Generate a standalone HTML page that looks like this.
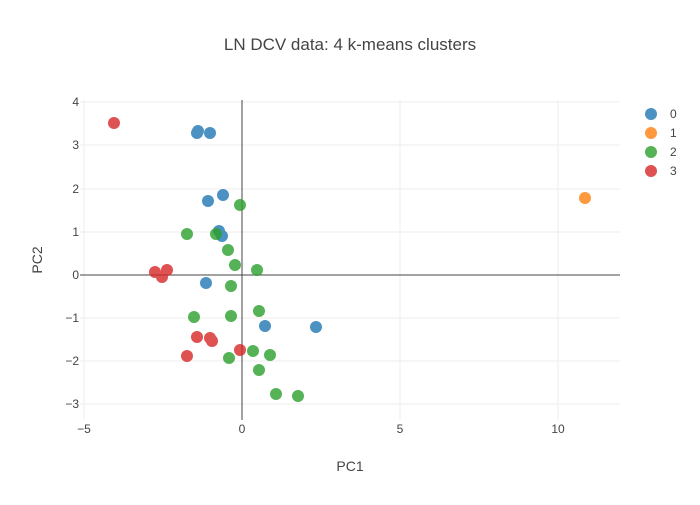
<!DOCTYPE html><html><head><style>body{margin:0;background:#fff}</style></head><body>
<svg width="700" height="500" xmlns="http://www.w3.org/2000/svg" font-family="'Liberation Sans',sans-serif" fill="#444">
<rect width="700" height="500" fill="#fff"/>
<g stroke="#eee" stroke-width="1">
<line x1="84" y1="100" x2="84" y2="420"/><line x1="400" y1="100" x2="400" y2="420"/><line x1="558" y1="100" x2="558" y2="420"/>
<line x1="80" y1="102" x2="620" y2="102"/><line x1="80" y1="145" x2="620" y2="145"/><line x1="80" y1="189" x2="620" y2="189"/><line x1="80" y1="232" x2="620" y2="232"/><line x1="80" y1="318" x2="620" y2="318"/><line x1="80" y1="361" x2="620" y2="361"/><line x1="80" y1="404" x2="620" y2="404"/>
</g>
<g stroke="#444" stroke-width="1"><line x1="242" y1="100" x2="242" y2="420"/><line x1="80" y1="275" x2="620" y2="275"/></g>
<text x="350" y="50" text-anchor="middle" font-size="17">LN DCV data: 4 k-means clusters</text>
<g font-size="12" text-anchor="middle"><text x="84" y="433">−5</text><text x="242" y="433">0</text><text x="400" y="433">5</text><text x="558" y="433">10</text></g>
<g font-size="12" text-anchor="end"><text x="79" y="106">4</text><text x="79" y="149">3</text><text x="79" y="193">2</text><text x="79" y="236">1</text><text x="79" y="279">0</text><text x="79" y="322">−1</text><text x="79" y="365">−2</text><text x="79" y="408">−3</text></g>
<text x="350" y="471" text-anchor="middle" font-size="14">PC1</text>
<text transform="translate(42,260) rotate(-90)" text-anchor="middle" font-size="14">PC2</text>
<g fill="#1f77b4" opacity="0.8"><circle cx="198" cy="131" r="6"/><circle cx="197" cy="133" r="6"/><circle cx="210" cy="133" r="6"/><circle cx="223" cy="195" r="6"/><circle cx="208" cy="201" r="6"/><circle cx="219" cy="231" r="6"/><circle cx="222" cy="236" r="6"/><circle cx="206" cy="283" r="6"/><circle cx="265" cy="326" r="6"/><circle cx="316" cy="327" r="6"/></g>
<g fill="#ff7f0e" opacity="0.8"><circle cx="585" cy="198" r="6"/></g>
<g fill="#2ca02c" opacity="0.8"><circle cx="240" cy="205" r="6"/><circle cx="187" cy="234" r="6"/><circle cx="216" cy="234" r="6"/><circle cx="228" cy="250" r="6"/><circle cx="235" cy="265" r="6"/><circle cx="257" cy="270" r="6"/><circle cx="231" cy="286" r="6"/><circle cx="194" cy="317" r="6"/><circle cx="231" cy="316" r="6"/><circle cx="259" cy="311" r="6"/><circle cx="229" cy="358" r="6"/><circle cx="253" cy="351" r="6"/><circle cx="270" cy="355" r="6"/><circle cx="259" cy="370" r="6"/><circle cx="276" cy="394" r="6"/><circle cx="298" cy="396" r="6"/></g>
<g fill="#d62728" opacity="0.8"><circle cx="114" cy="123" r="6"/><circle cx="155" cy="272" r="6"/><circle cx="167" cy="270" r="6"/><circle cx="162" cy="277" r="6"/><circle cx="210" cy="338" r="6"/><circle cx="212" cy="341" r="6"/><circle cx="197" cy="337" r="6"/><circle cx="187" cy="356" r="6"/><circle cx="240" cy="350" r="6"/></g>
<g opacity="0.8"><circle cx="651" cy="114" r="6" fill="#1f77b4"/><circle cx="651" cy="133" r="6" fill="#ff7f0e"/><circle cx="651" cy="152" r="6" fill="#2ca02c"/><circle cx="651" cy="171" r="6" fill="#d62728"/></g>
<g font-size="12"><text x="670" y="118">0</text><text x="670" y="137">1</text><text x="670" y="156">2</text><text x="670" y="175">3</text></g>
</svg></body></html>
